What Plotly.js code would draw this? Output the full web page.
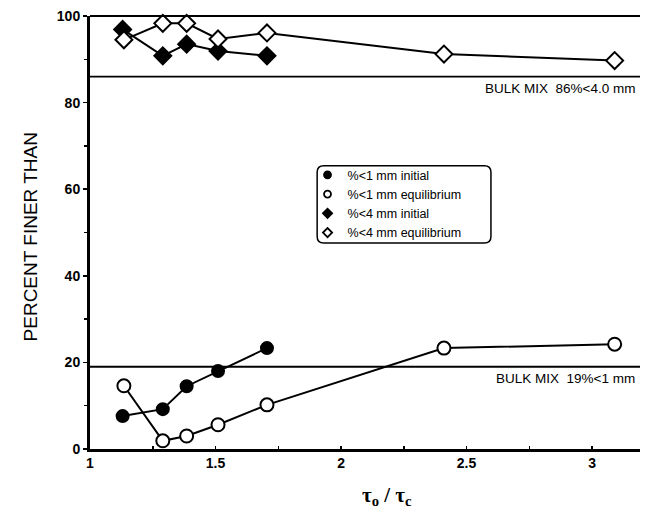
<!DOCTYPE html>
<html><head><meta charset="utf-8">
<script src="https://cdn.plot.ly/plotly-3.0.1.min.js"></script>
<style>body{margin:0;background:#fff}#chart{width:652px;height:515px}</style>
</head><body><div id="chart"></div>
<script>
// tau_o / tau_c values
const xShort = [1.13, 1.29, 1.385, 1.51, 1.705];
const xLong  = [1.135, 1.29, 1.385, 1.51, 1.705, 2.41, 3.09];
const fine1Initial = [7.6, 9.2, 14.5, 18.0, 23.3];
const fine1Equil   = [14.6, 1.9, 3.0, 5.6, 10.2, 23.3, 24.2];
const fine4Initial = [96.9, 90.8, 93.5, 91.9, 90.8];
const fine4Equil   = [94.5, 98.3, 98.3, 94.7, 96.1, 91.2, 89.7];
const seriesNames = ['%<1 mm initial', '%<1 mm equilibrium', '%<4 mm initial', '%<4 mm equilibrium'];
const bulkLevels = [86, 19];
const bulkLabels = ['BULK MIX  86%<4.0 mm', 'BULK MIX  19%<1 mm'];
const xTicks = [1, 1.5, 2, 2.5, 3];
const yTicks = [0, 20, 40, 60, 80, 100];

const FONT = 'Liberation Sans, Arial, sans-serif';
const line = {color: '#000', width: 2};
function tr(x, y, name, symbol, filled, size) {
  return {x: x, y: y, name: name, mode: 'lines+markers', type: 'scatter', showlegend: false,
    line: line, cliponaxis: false,
    marker: {symbol: symbol, size: size, color: filled ? '#000' : '#fff', line: {color: '#000', width: 2}}};
}
function leg(name, symbol, filled) {
  return {x: [null], y: [null], name: name, mode: 'markers', type: 'scatter',
    marker: {symbol: symbol, size: 7, color: filled ? '#000' : '#fff', line: {color: '#000', width: 1.8}}};
}
const data = [
  tr(xShort, fine1Initial, seriesNames[0], 'circle', true, 12),
  tr(xLong, fine1Equil, seriesNames[1], 'circle', false, 13),
  tr(xShort, fine4Initial, seriesNames[2], 'diamond', true, 13),
  tr(xLong, fine4Equil, seriesNames[3], 'diamond', false, 13),
  leg(seriesNames[0], 'circle', true),
  leg(seriesNames[1], 'circle', false),
  leg(seriesNames[2], 'diamond', true),
  leg(seriesNames[3], 'diamond', false)
];

const shapes = bulkLevels.map(v => ({type: 'line', xref: 'paper', x0: 0, x1: 1, yref: 'y', y0: v, y1: v,
  line: {color: '#000', width: 1.8}}));
// top frame line
shapes.push({type: 'line', xref: 'paper', x0: 0, x1: 1, yref: 'paper', y0: 1, y1: 1, line: {color: '#000', width: 2}});
// rounded legend box
const bx0 = 0.413, bx1 = 0.729, by0 = 0.476, by1 = 0.654, rx = 0.012, ry = 0.015;
shapes.push({type: 'path', xref: 'paper', yref: 'paper', line: {color: '#000', width: 1.5},
  path: `M ${bx0+rx} ${by1} L ${bx1-rx} ${by1} Q ${bx1} ${by1} ${bx1} ${by1-ry} L ${bx1} ${by0+ry} Q ${bx1} ${by0} ${bx1-rx} ${by0} L ${bx0+rx} ${by0} Q ${bx0} ${by0} ${bx0} ${by0+ry} L ${bx0} ${by1-ry} Q ${bx0} ${by1} ${bx0+rx} ${by1} Z`});

const annotations = [
  {text: bulkLabels[0], xref: 'paper', x: 0.995, xanchor: 'right', yref: 'y', y: bulkLevels[0], yanchor: 'top', yshift: -2,
   showarrow: false, font: {family: FONT, size: 13.5, color: '#000'}},
  {text: bulkLabels[1], xref: 'paper', x: 0.995, xanchor: 'right', yref: 'y', y: bulkLevels[1], yanchor: 'top', yshift: -2,
   showarrow: false, font: {family: FONT, size: 13.5, color: '#000'}},
  {text: 'PERCENT FINER THAN', xref: 'paper', x: -0.108, xanchor: 'center', yref: 'paper', y: 0.49, yanchor: 'middle',
   textangle: -90, showarrow: false, font: {family: FONT, size: 19, color: '#000'}},
  {text: '<b>τ<sub>o</sub> / τ<sub>c</sub></b>', xref: 'paper', x: 0.54, xanchor: 'center', yref: 'paper', y: -0.075, yanchor: 'top',
   showarrow: false, font: {family: 'Liberation Serif, Times New Roman, serif', size: 21, color: '#000'}}
];

const layout = {
  width: 652, height: 515,
  margin: {l: 90, r: 12, t: 16, b: 66},
  paper_bgcolor: '#fff', plot_bgcolor: '#fff',
  showlegend: true,
  legend: {x: 0.3955, y: 0.667, xanchor: 'left', yanchor: 'top', bgcolor: 'rgba(0,0,0,0)', borderwidth: 0,
    font: {family: FONT, size: 12.5, color: '#000'}, tracegroupgap: 0, itemwidth: 30},
  xaxis: {range: [1, 3.191], tickvals: xTicks, ticktext: xTicks.map(v => '<b>' + v + '</b>'), showgrid: false, zeroline: false,
    showline: true, mirror: false, linecolor: '#000', linewidth: 2.5, ticks: 'inside', ticklen: 3, tickwidth: 1.5, tickcolor: '#000',
    minor: {dtick: 0.25, ticks: 'inside', ticklen: 3, tickwidth: 1.5, tickcolor: '#000', showgrid: false},
    tickfont: {family: FONT, size: 14, color: '#000'}},
  yaxis: {range: [0, 100], tickvals: yTicks, ticktext: yTicks.map(v => '<b>' + v + '</b>'), showgrid: false, zeroline: false,
    showline: true, mirror: false, linecolor: '#000', linewidth: 3, ticks: 'outside', ticklen: 4, tickwidth: 1.5, tickcolor: '#000',
    minor: {dtick: 10, ticks: 'outside', ticklen: 3, tickwidth: 1.5, tickcolor: '#000', showgrid: false},
    tickfont: {family: FONT, size: 14, color: '#000'}},
  shapes: shapes,
  annotations: annotations
};
Plotly.newPlot('chart', data, layout, {staticPlot: true});
</script></body></html>
